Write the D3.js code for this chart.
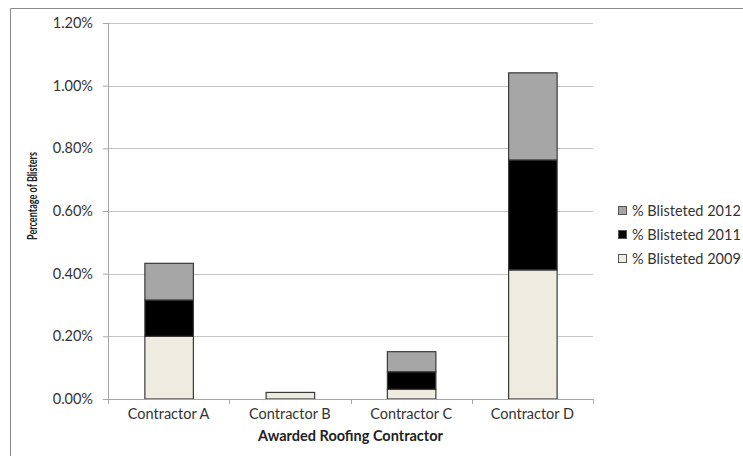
<!DOCTYPE html>
<html>
<head>
<meta charset="utf-8">
<script src="https://cdn.jsdelivr.net/npm/d3@7"></script>
<style>
  body { margin: 0; background: #fff; }
  text { font-family: Lato, "Open Sans", sans-serif; fill: #222; }
</style>
</head>
<body>
<div id="chart"></div>
<script>
var contractors = ["Contractor A", "Contractor B", "Contractor C", "Contractor D"];
var seriesNames = ["% Blisteted 2009", "% Blisteted 2011", "% Blisteted 2012"];
var blistered2009 = [0.200, 0.021, 0.031, 0.412];
var blistered2011 = [0.116, 0, 0.056, 0.351];
var blistered2012 = [0.117, 0, 0.064, 0.278];
var yTicks = [0, 0.2, 0.4, 0.6, 0.8, 1.0, 1.2];
var colors = ["#eeebe0", "#000000", "#a6a6a6"];

var width = 743, height = 456;
var margin = { top: 23, left: 108, right: 150, bottom: 57 };

var svg = d3.select("#chart").append("svg")
  .attr("width", width)
  .attr("height", height);

// outer frame (only top and left edges are visible in the crop)
svg.append("line").attr("x1", 10.5).attr("x2", width).attr("y1", 8.5).attr("y2", 8.5)
  .attr("stroke", "#8a8a8a");
svg.append("line").attr("x1", 10.5).attr("x2", 10.5).attr("y1", 8.5).attr("y2", height)
  .attr("stroke", "#8a8a8a");

var plotW = 593 - margin.left;
var plotH = 399 - margin.top;

var g = svg.append("g")
  .attr("transform", "translate(" + margin.left + "," + margin.top + ")");

var x = d3.scaleBand().domain(contractors).range([0, plotW]).paddingInner(0.6).paddingOuter(0.3);
var xOuter = d3.scaleBand().domain(contractors).range([0, plotW]);
var y = d3.scaleLinear().domain([0, 1.2]).range([plotH, 0]);

// gridlines
g.selectAll(".grid").data(yTicks.slice(1)).enter().append("line")
  .attr("x1", 0).attr("x2", plotW)
  .attr("y1", d => Math.round(y(d)) + 0.5).attr("y2", d => Math.round(y(d)) + 0.5)
  .attr("stroke", "#c4c4c4");

// y axis
var yAxis = g.append("g").call(d3.axisLeft(y).tickValues(yTicks)
  .tickFormat(d => d.toFixed(2) + "%").tickSize(5).tickPadding(10));
yAxis.select(".domain").attr("stroke", "#a6a6a6").attr("d", "M0.5,0V" + plotH);
yAxis.selectAll(".tick line").attr("stroke", "#a6a6a6");
yAxis.selectAll(".tick text").style("font-size", "14.5px").style("fill", "#333");

// stacked bars
var rows = contractors.map(function(c, i) {
  return { c: c, "% Blisteted 2009": blistered2009[i], "% Blisteted 2011": blistered2011[i], "% Blisteted 2012": blistered2012[i] };
});
var stack = d3.stack().keys(seriesNames)(rows);

g.selectAll(".layer").data(stack).enter().append("g")
  .attr("fill", (d, i) => colors[i])
  .selectAll("rect").data(d => d.filter(p => p[1] - p[0] > 0)).enter().append("rect")
  .attr("x", d => x(d.data.c) + 0.5)
  .attr("width", x.bandwidth())
  .attr("y", d => y(d[1]))
  .attr("height", d => y(d[0]) - y(d[1]))
  .attr("stroke", "#3a3a3a")
  .attr("stroke-width", 1.2);

// x axis
var xAxis = g.append("g").attr("transform", "translate(0," + plotH + ")");
xAxis.append("line").attr("x1", 0).attr("x2", plotW).attr("y1", 0.5).attr("y2", 0.5)
  .attr("stroke", "#a6a6a6");
xAxis.selectAll(".xt").data(contractors.concat(["end"])).enter().append("line")
  .attr("x1", (d, i) => Math.round(i * xOuter.step()) + 0.5)
  .attr("x2", (d, i) => Math.round(i * xOuter.step()) + 0.5)
  .attr("y1", 0).attr("y2", 5)
  .attr("stroke", "#a6a6a6");
xAxis.selectAll(".xl").data(contractors).enter().append("text")
  .attr("x", d => xOuter(d) + xOuter.bandwidth() / 2)
  .attr("y", 20)
  .attr("text-anchor", "middle")
  .style("font-size", "14.5px")
  .style("fill", "#333")
  .text(d => d);

// axis titles
svg.append("text")
  .attr("x", margin.left + plotW / 2)
  .attr("y", 441)
  .attr("text-anchor", "middle")
  .style("font-size", "14.5px")
  .style("font-weight", "bold")
  .text("Awarded Roofing Contractor");

// the original title is a condensed bold face, so squeeze it to its width
svg.append("text")
  .attr("transform", "translate(37,196) rotate(-90)")
  .attr("text-anchor", "middle")
  .attr("textLength", 88)
  .attr("lengthAdjust", "spacingAndGlyphs")
  .style("font-size", "12.5px")
  .style("font-weight", "bold")
  .text("Percentage of Blisters");

// legend (2012 on top)
var legendOrder = [2, 1, 0];
var legend = svg.selectAll(".legend").data(legendOrder).enter().append("g")
  .attr("transform", (d, i) => "translate(618," + (206 + i * 24) + ")");
legend.append("rect")
  .attr("width", 8).attr("height", 8).attr("x", 0.5).attr("y", 0.5)
  .attr("fill", d => colors[d])
  .attr("stroke", "#555");
legend.append("text")
  .attr("x", 14).attr("y", 9.5)
  .style("font-size", "14.5px")
  .style("fill", "#333")
  .text(d => seriesNames[d]);
</script>
</body>
</html>
